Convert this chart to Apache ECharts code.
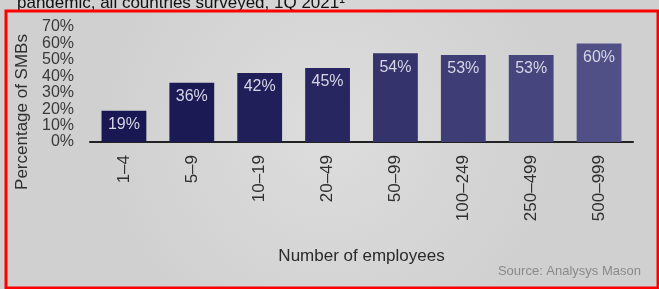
<!DOCTYPE html>
<html>
<head>
<meta charset="utf-8">
<script src="https://cdn.jsdelivr.net/npm/echarts@6/dist/echarts.min.js"></script>
<style>
  html, body { margin: 0; padding: 0; background: #d6d6d6; }
  #chart { width: 659px; height: 289px; }
</style>
</head>
<body>
<div id="chart"></div>
<script>
// data
var categories = ['1–4', '5–9', '10–19', '20–49', '50–99', '100–249', '250–499', '500–999'];
var values = [19, 36, 42, 45, 54, 53, 53, 60];
var barColors = ['#1a1852', '#1c1a55', '#211f5a', '#282660', '#35336c', '#3f3d75', '#47457d', '#515086'];

var font = 'Liberation Sans, Arial, sans-serif';
var chart = echarts.init(document.getElementById('chart'));

var option = {
    backgroundColor: {
        type: 'radial', x: 0.5, y: 0.45, r: 0.8,
        colorStops: [{ offset: 0, color: '#dddddd' }, { offset: 1, color: '#d0d0d0' }]
    },
    textStyle: { fontFamily: font },
    grid: { left: 90, right: 26, top: 27, bottom: 147, containLabel: false },
    xAxis: {
        type: 'category',
        data: categories,
        name: 'Number of employees',
        nameLocation: 'middle',
        nameGap: 106,
        nameTextStyle: { color: '#2a2a2a', fontSize: 17 },
        axisLine: { lineStyle: { color: '#222', width: 2 } },
        axisTick: { show: false },
        axisLabel: { rotate: 90, color: '#2f2f2f', fontSize: 17, margin: 13 }
    },
    yAxis: {
        type: 'value',
        min: 0, max: 70, interval: 10,
        axisLine: { show: false },
        axisTick: { show: false },
        splitLine: { show: false },
        axisLabel: { color: '#3a3a3a', fontSize: 16, margin: 16, formatter: '{value}%' }
    },
    series: [{
        type: 'bar',
        barCategoryGap: '34%',
        data: values.map(function (v, i) {
            return { value: v, itemStyle: { color: barColors[i] } };
        }),
        label: {
            show: true,
            position: 'insideTop',
            distance: 6,
            color: '#d6d6e6',
            fontSize: 16,
            formatter: '{c}%'
        }
    }],
    graphic: [
        {
            type: 'text', left: 17, top: -5,
            style: { text: 'pandemic, all countries surveyed, 1Q 2021¹', fill: '#111', fontSize: 17, fontFamily: font }
        },
        {
            type: 'text', x: 22, y: 112, rotation: Math.PI / 2,
            style: { text: 'Percentage of SMBs', fill: '#2f2f2f', fontSize: 17, fontFamily: font, align: 'center', verticalAlign: 'middle' }
        },
        {
            type: 'text', right: 18, top: 265,
            style: { text: 'Source: Analysys Mason', fill: '#8a8a8a', fontSize: 13, fontFamily: font }
        },
        {
            type: 'rect', shape: { x: 6, y: 11, width: 652, height: 277 },
            style: { fill: null, stroke: '#ff0000', lineWidth: 3 }
        }
    ]
};

chart.setOption(option);
</script>
</body>
</html>
